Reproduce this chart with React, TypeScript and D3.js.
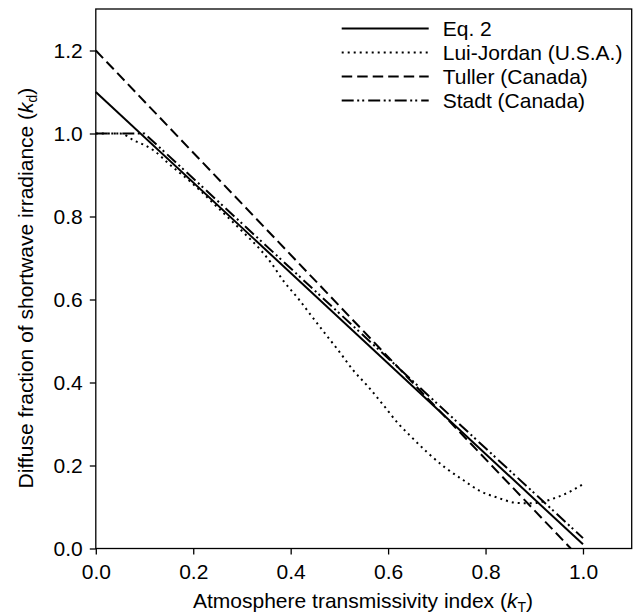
import { useEffect, useRef } from "react";
import * as d3 from "d3";

// Datos (kT, kd)
const eq2 = [
  [0, 1.1],
  [1.0, 0.01],
];
const luiJordan = [
  [0, 1.0], [0.05, 1.0], [0.08, 0.982], [0.1, 0.972], [0.12, 0.958],
  [0.15, 0.927], [0.2, 0.878], [0.25, 0.822], [0.3, 0.765], [0.34, 0.717],
  [0.36, 0.688], [0.385, 0.645], [0.415, 0.603], [0.443, 0.56], [0.472, 0.516],
  [0.5, 0.474], [0.528, 0.43], [0.559, 0.39], [0.59, 0.346], [0.62, 0.302],
  [0.645, 0.272], [0.68, 0.232], [0.716, 0.196], [0.754, 0.165], [0.788, 0.139],
  [0.826, 0.122], [0.863, 0.11], [0.894, 0.109], [0.918, 0.113], [0.95, 0.125],
  [0.975, 0.138], [1.0, 0.155],
];
const tuller = [
  [0, 1.2],
  [0.975, 0.0],
];
const stadt = [
  [0, 1.0],
  [0.1, 1.0],
  [1.0, 0.025],
];

const xTicks = [0, 0.2, 0.4, 0.6, 0.8, 1.0];
const yTicks = [0, 0.2, 0.4, 0.6, 0.8, 1.0, 1.2];

const series = [
  { name: "Eq. 2", data: eq2, dash: null, curve: d3.curveLinear },
  { name: "Lui-Jordan (U.S.A.)", data: luiJordan, dash: "2,4", curve: d3.curveMonotoneX },
  { name: "Tuller (Canada)", data: tuller, dash: "10.5,5", curve: d3.curveLinear },
  { name: "Stadt (Canada)", data: stadt, dash: "12,3.5,2,3,2,4", curve: d3.curveLinear },
];

const W = 635;
const H = 616;
const FONT = "'Liberation Sans', Arial, Helvetica, sans-serif";
const FS = "21px";

export default function App() {
  const ref = useRef<SVGSVGElement | null>(null);

  useEffect(() => {
    if (!ref.current) return;
    const svg = d3.select(ref.current);
    svg.selectAll("*").remove();

    const left = 95.8, right = 631.7, top = 9, bottom = 548.5;
    const x = d3.scaleLinear().domain([0, 1.1]).range([left, right]);
    const y = d3.scaleLinear().domain([0, 1.3]).range([bottom, top]);

    const line = d3
      .line<number[]>()
      .x((d) => x(d[0]))
      .y((d) => y(d[1]));

    // Curvas
    series.forEach((s) => {
      svg
        .append("path")
        .attr("d", line.curve(s.curve)(s.data as number[][]))
        .attr("fill", "none")
        .attr("stroke", "#000")
        .attr("stroke-width", 2)
        .attr("stroke-dasharray", s.dash);
    });

    // Marco
    svg
      .append("rect")
      .attr("x", left)
      .attr("y", top)
      .attr("width", right - left)
      .attr("height", bottom - top)
      .attr("fill", "none")
      .attr("stroke", "#000")
      .attr("stroke-width", 1.3);

    // Ejes
    const xAxis = svg
      .append("g")
      .attr("transform", `translate(0,${bottom})`)
      .call(d3.axisBottom(x).tickValues(xTicks).tickSize(6).tickSizeOuter(0).tickFormat(d3.format(".1f")));
    const yAxis = svg
      .append("g")
      .attr("transform", `translate(${left},0)`)
      .call(d3.axisLeft(y).tickValues(yTicks).tickSize(6).tickSizeOuter(0).tickFormat(d3.format(".1f")));

    [xAxis, yAxis].forEach((g) => {
      g.select(".domain").remove();
      g.selectAll("line").attr("stroke", "#000").attr("stroke-width", 1.3);
      g.selectAll("text")
        .attr("fill", "#000")
        .style("font-family", FONT)
        .style("font-size", FS);
    });
    xAxis.selectAll("text").attr("dy", "0.71em").attr("y", 16);
    yAxis.selectAll("text").attr("x", -13);

    // Título eje X
    const xl = svg
      .append("text")
      .attr("x", 363)
      .attr("y", 608)
      .attr("text-anchor", "middle")
      .style("font-family", FONT)
      .style("font-size", FS);
    xl.append("tspan").text("Atmosphere transmissivity index (");
    xl.append("tspan").attr("font-style", "italic").text("k");
    xl.append("tspan").attr("font-size", "14px").attr("dy", 4).text("T");
    xl.append("tspan").attr("dy", -4).text(")");

    // Título eje Y
    const yl = svg
      .append("text")
      .attr("transform", `translate(33,288) rotate(-90)`)
      .attr("text-anchor", "middle")
      .style("font-family", FONT)
      .style("font-size", FS);
    yl.append("tspan").text("Diffuse fraction of shortwave irradiance (");
    yl.append("tspan").attr("font-style", "italic").text("k");
    yl.append("tspan").attr("font-size", "14px").attr("dy", 4).text("d");
    yl.append("tspan").attr("dy", -4).text(")");

    // Leyenda
    const legend = svg.append("g").attr("transform", "translate(341.7,28.5)");
    series.forEach((s, i) => {
      const item = legend.append("g").attr("transform", `translate(0,${i * 24})`);
      item
        .append("line")
        .attr("x1", 0)
        .attr("x2", 87)
        .attr("stroke", "#000")
        .attr("stroke-width", 2)
        .attr("stroke-dasharray", s.dash);
      item
        .append("text")
        .attr("x", 101)
        .attr("dy", "0.35em")
        .style("font-family", FONT)
        .style("font-size", FS)
        .text(s.name);
    });
  }, []);

  return (
    <svg
      ref={ref}
      width={W}
      height={H}
      style={{ position: "absolute", left: 0, top: 0, background: "#fff" }}
    />
  );
}
